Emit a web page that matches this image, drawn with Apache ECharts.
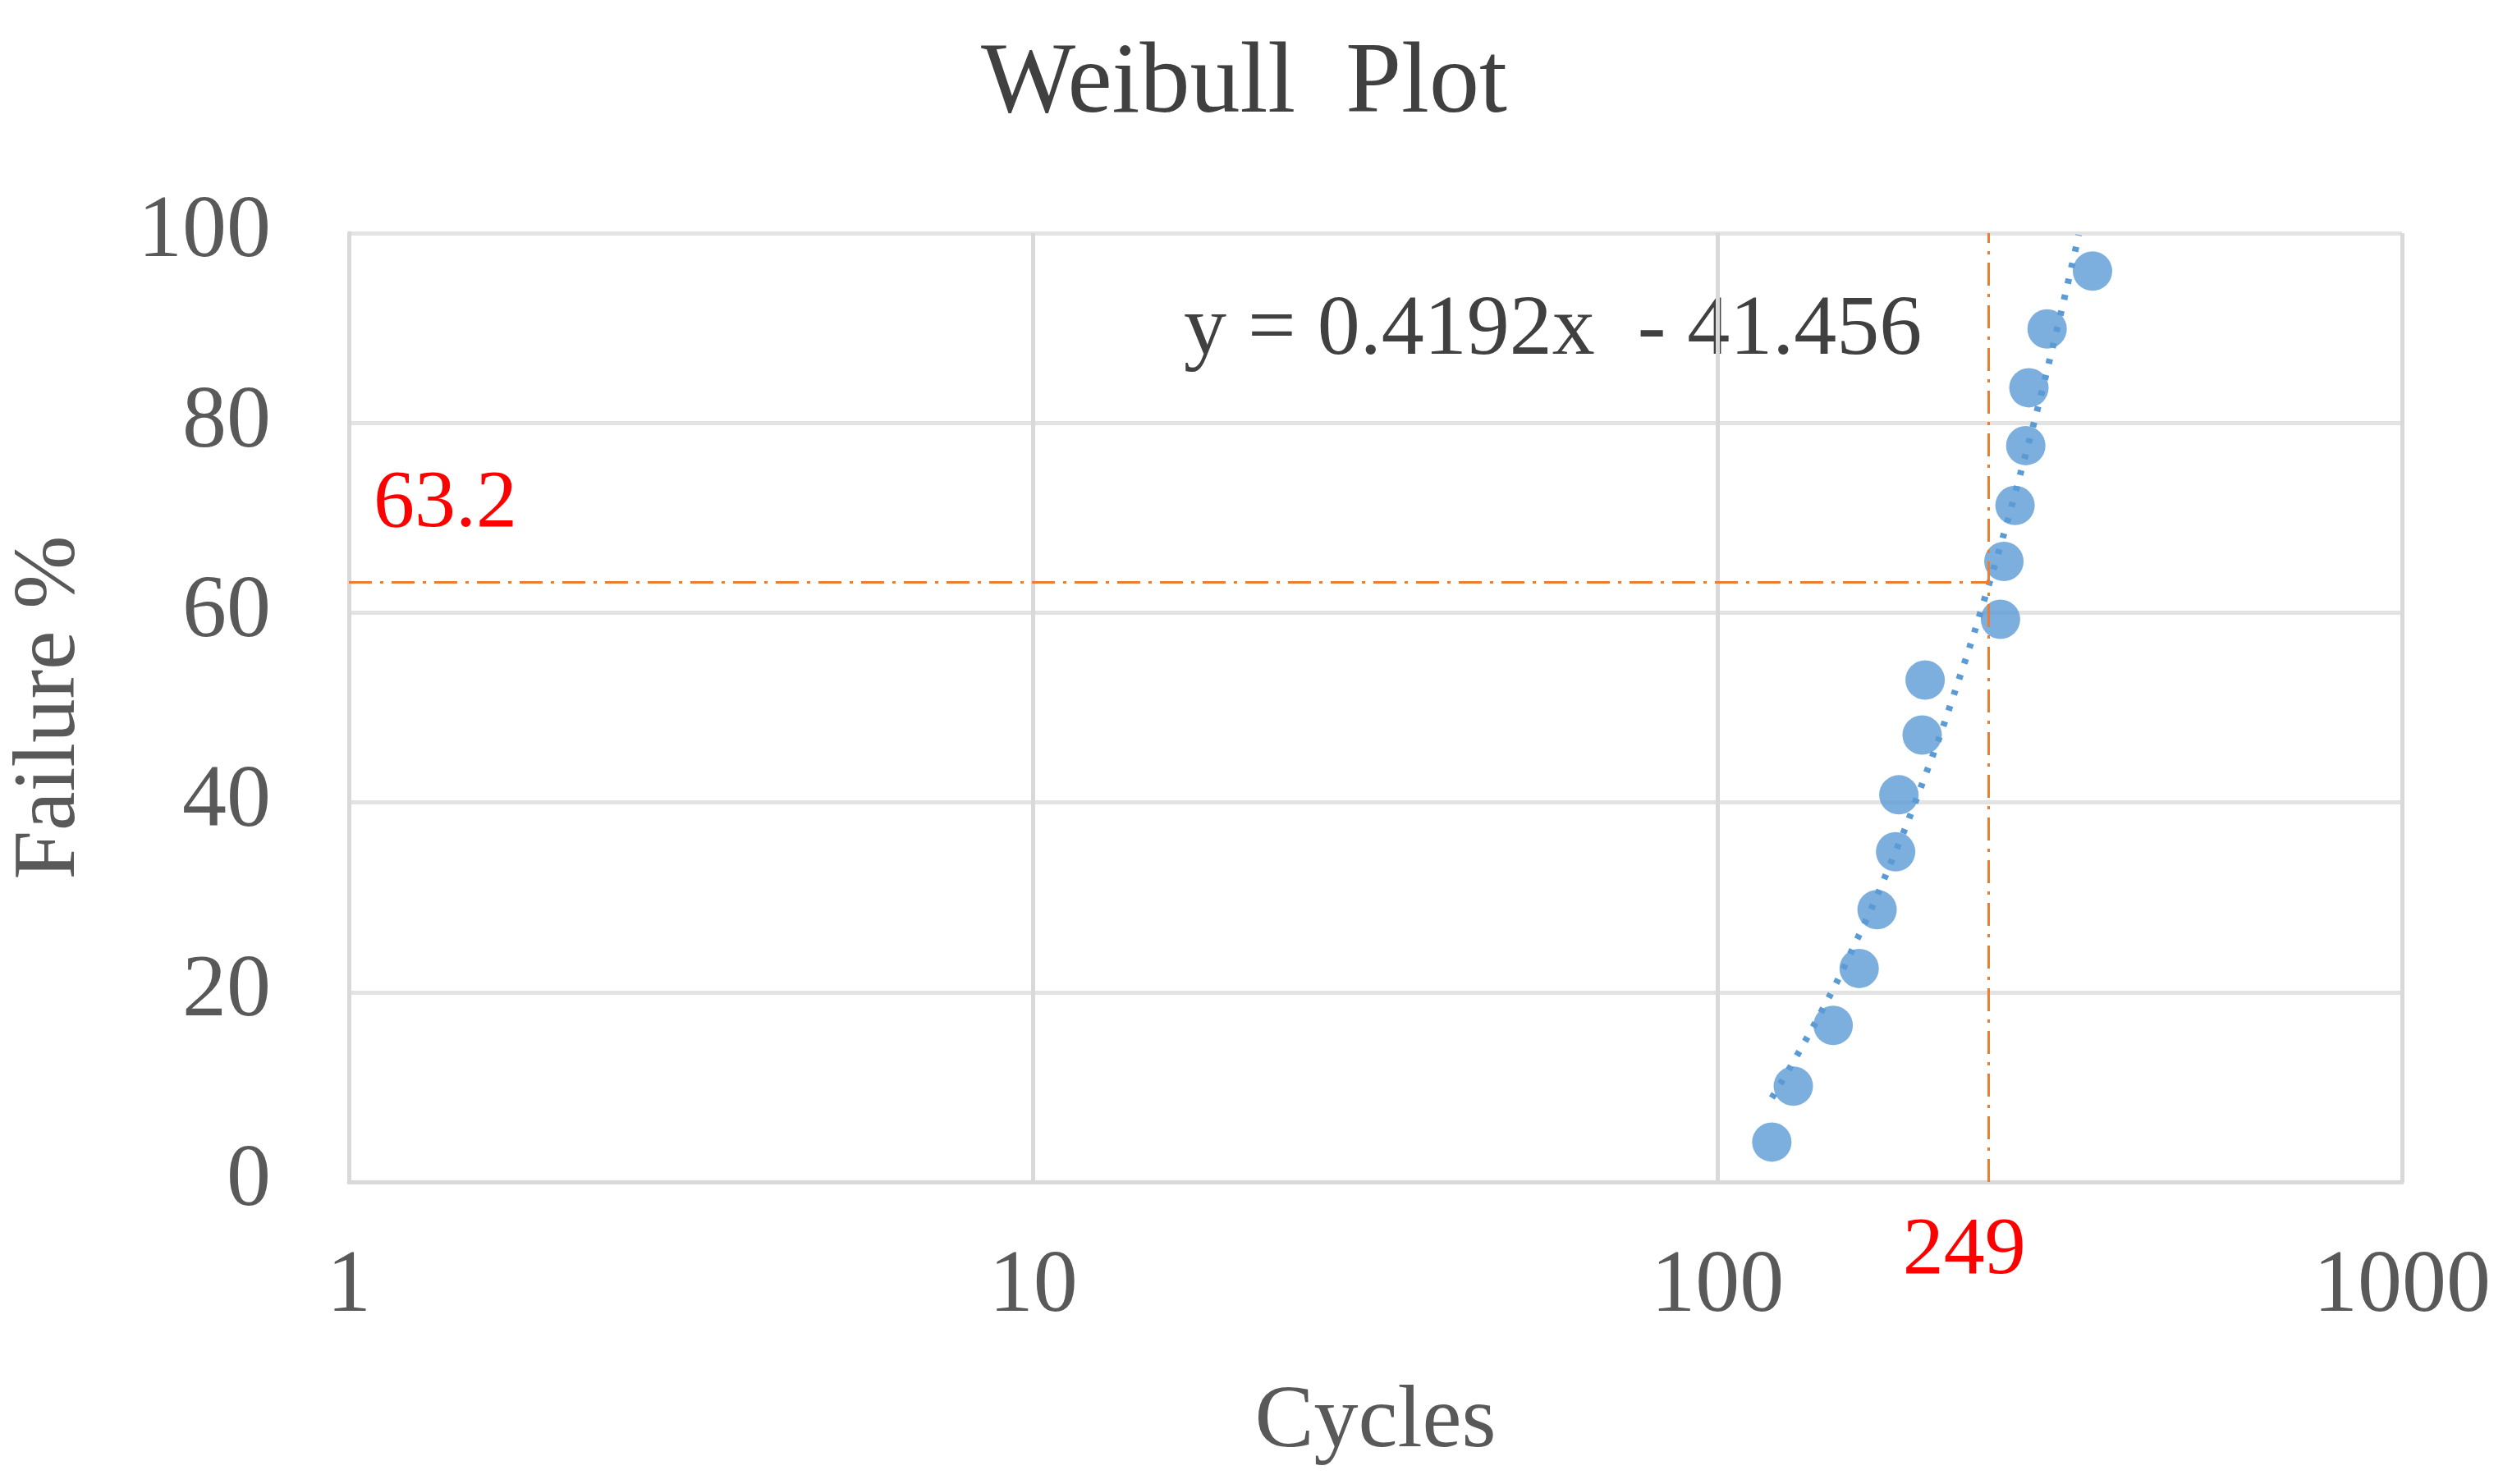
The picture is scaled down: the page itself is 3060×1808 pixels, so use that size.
<!DOCTYPE html>
<html><head><meta charset="utf-8">
<script src="https://cdn.jsdelivr.net/npm/echarts@6/dist/echarts.min.js"></script>
<style>html,body{margin:0;padding:0;background:#fff}#c{width:3060px;height:1808px}</style>
</head><body><div id="c"></div>
<script>
const cycles = [120,129,147.5,161,171,182,184,199,201,259,262,272,282,285,303,353];
const failure = [4.2,10.1,16.5,22.5,28.7,34.8,40.8,47.1,52.9,59.3,65.4,71.3,77.6,83.7,89.9,96.0];
const trendX = [120,140,160,180,200,220,249,280,310,337];
const trendY = [8.85,17.23,25.62,34.0,42.38,50.77,62.92,75.92,88.5,99.81];
const xTicks = [1,10,100,1000];
const charLife = 249, charPct = 63.2;
const eqText = 'y = 0.4192x  - 41.456';

const F = '"Liberation Serif","DejaVu Serif",serif';
const chart = echarts.init(document.getElementById('c'));
chart.setOption({
  animation:false,
  title:{text:'Weibull  Plot',left:1190,top:38,textStyle:{fontFamily:F,fontSize:122,fontWeight:'normal',color:'#404040'}},
  grid:{left:400,right:134,top:284,bottom:368},
  xAxis:{type:'log',logBase:10,min:xTicks[0],max:xTicks[xTicks.length-1],
    name:'Cycles',nameLocation:'middle',nameGap:240,nameTextStyle:{fontFamily:F,fontSize:108,color:'#595959'},
    axisLine:{lineStyle:{color:'#d9d9d9',width:5}},axisTick:{show:false},
    axisLabel:{fontFamily:F,fontSize:108,color:'#595959',margin:75,formatter:v=>String(v)},
    splitLine:{show:true,lineStyle:{color:'#d9d9d9',width:5}}},
  yAxis:{type:'value',min:0,max:100,interval:20,
    name:'Failure %',nameLocation:'middle',nameGap:310,nameTextStyle:{fontFamily:F,fontSize:107,color:'#595959'},
    axisLine:{show:true,lineStyle:{color:'#d9d9d9',width:5}},axisTick:{show:false},
    axisLabel:{fontFamily:F,fontSize:108,color:'#595959',margin:95},
    splitLine:{lineStyle:{color:'#e3e3e3',width:5}}},
  series:[
    {type:'line',data:trendX.map((x,i)=>[x,trendY[i]]),symbol:'none',silent:true,smooth:true,
     lineStyle:{color:'#5b9bd5',width:8,type:[6,14]},
     markLine:{symbol:'none',silent:true,lineStyle:{color:'#ed7d31',width:3,type:[28,10,4,10]},
       data:[
         [{coord:[1,charPct],label:{show:true,position:'insideStartTop',formatter:String(charPct),fontFamily:F,fontSize:100,color:'#ff0000',distance:[30,45]}},{coord:[charLife,charPct]}],
         [{coord:[charLife,0],label:{show:true,position:'start',formatter:String(charLife),fontFamily:F,fontSize:100,color:'#ff0000',distance:35,offset:[-30,0]}},{coord:[charLife,100]}]
       ]}},
    {type:'scatter',data:cycles.map((x,i)=>[x,failure[i]]),symbolSize:48,itemStyle:{color:'#5b9bd5'}}
  ],
  graphic:[{type:'text',left:1442,top:352,style:{text:eqText,fontFamily:F,fontSize:104,fill:'#404040'}}]
});
</script></body></html>
